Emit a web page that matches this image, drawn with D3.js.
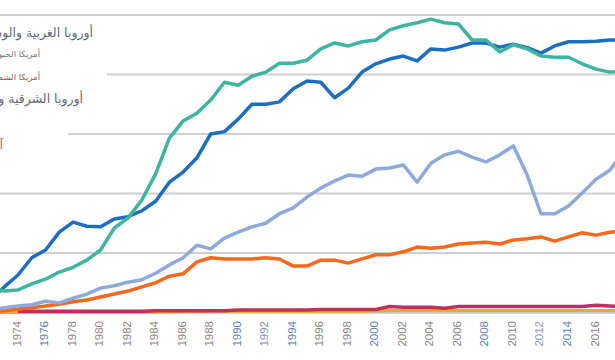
<!DOCTYPE html>
<html><head><meta charset="utf-8">
<script src="https://cdn.jsdelivr.net/npm/d3@7"></script>
<style>html,body{margin:0;padding:0;background:#fff;overflow:hidden}svg{display:block}</style>
</head><body>
<svg id="chart" width="615" height="360"></svg>
<script>
// ---- data ----
const years = d3.range(1972, 2019);
const westCentralEurope = [4.3,3.6,3.8,4.8,5.6,6.8,7.6,8.8,10.5,14.2,15.9,18.9,23.3,29.3,32.2,33.5,35.7,38.7,38.2,39.7,40.4,41.9,41.9,42.4,44.3,45.3,44.8,45.5,45.8,47.5,48.2,48.7,49.3,48.7,48.5,45.8,45.8,43.8,45.0,44.3,43.1,42.9,42.9,41.8,40.9,40.4,40.6];
const southAmerica = [2.1,4.3,6.3,9.2,10.5,13.5,15.2,14.5,14.4,15.7,16.1,17.1,18.7,21.9,23.6,26.0,30.0,30.4,32.5,35.0,35.0,35.4,37.6,38.9,38.7,36.1,37.7,40.4,41.8,42.6,43.1,42.3,44.3,44.1,44.6,45.3,45.3,44.6,45.1,44.5,43.6,44.8,45.5,45.5,45.6,45.8,45.8];
const eastEuropeRussia = [0.4,0.8,1.1,1.3,1.9,1.6,2.4,3.1,4.1,4.5,5.1,5.5,6.6,8.0,9.2,11.3,10.7,12.5,13.5,14.4,15.0,16.6,17.6,19.4,20.9,22.1,23.1,22.9,24.1,24.3,24.8,21.9,25.1,26.5,27.1,26.1,25.3,26.5,28.0,23.1,16.6,16.6,17.9,20.1,22.4,23.9,27.0];
const northAmerica = [0.1,0.3,0.6,0.8,1.1,1.4,1.8,2.1,2.6,3.1,3.6,4.3,5.0,6.1,6.5,8.5,9.2,9.0,9.0,9.0,9.2,9.0,7.8,7.8,8.8,8.8,8.3,9.0,9.7,9.7,10.2,11.0,10.8,11.0,11.5,11.7,11.8,11.5,12.2,12.4,12.7,12.0,12.7,13.4,13.0,13.5,13.7];
const asiaPacific = [null,null,0.2,0.2,0.2,0.2,0.2,0.2,0.2,0.2,0.2,0.2,0.3,0.3,0.3,0.3,0.3,0.3,0.4,0.4,0.4,0.4,0.4,0.4,0.5,0.5,0.5,0.5,0.5,1.0,0.9,0.9,0.9,0.7,1.0,1.0,1.0,1.0,1.0,1.0,1.0,1.0,1.0,1.0,1.2,1.1,1.0];
const africaMiddleEast = [0,0,0,0,0,0,0,0,0,0,0,0,0.1,0.1,0.15,0.15,0.2,0.2,0.2,0.2,0.2,0.2,0.2,0.2,0.2,0.2,0.2,0.2,0.25,0.35,0.35,0.35,0.35,0.35,0.35,0.35,0.35,0.35,0.35,0.35,0.35,0.35,0.35,0.35,0.35,0.35,0.35];
const otherRegion = years.map(() => 0);
const yTicks = [0,10,20,30,40,50];
const tickYears = d3.range(1974, 2017, 2);
const legendLabels = ["أوروبا الغربية والوسطى","أمريكا الجنوبية","أمريكا الشمالية","أوروبا الشرقية وروسيا","آسيا والمحيط الهادئ"];

// ---- styles ----
const seriesDefs = [
  {v: otherRegion, c: "#c9c9c9", w: 2.5},
  {v: africaMiddleEast, c: "#f5a81c", w: 3},
  {v: asiaPacific, c: "#c2305a", w: 3.5},
  {v: northAmerica, c: "#f7681f", w: 3.5},
  {v: eastEuropeRussia, c: "#8eaadc", w: 3.5},
  {v: southAmerica, c: "#1c6ec2", w: 3.5},
  {v: westCentralEurope, c: "#3db5a0", w: 3.5}
];
const tickColors = {1974:"#8b847f",1976:"#5b7fb8",1978:"#8b847f",1980:"#998a82",1982:"#95817a",1984:"#8b847f",1986:"#8b847f",1988:"#8b847f",1990:"#5b7fb8",1992:"#7f90aa",1994:"#5b7fb8",1996:"#8b847f",1998:"#8b847f",2000:"#5b7fb8",2002:"#8b847f",2004:"#8b847f",2006:"#8b847f",2008:"#5b7fb8",2010:"#8b847f",2012:"#8a98b0",2014:"#5b7fb8",2016:"#8b847f"};
const legendStyle = [
  {x:93, y:37, fs:12.5, c:"#5b6b7d", box:[0,24,97,20]},
  {x:40, y:57, fs:8.5, c:"#7d7575", box:[0,46,60,16]},
  {x:40, y:80, fs:8.5, c:"#8b5e55", box:[0,64,107,22]},
  {x:83, y:103, fs:12.5, c:"#5f6a78", box:[0,90,88,20]},
  {x:3,  y:149, fs:12.5, c:"#7a8290", box:[0,128,68,24]}
];

const svg = d3.select("#chart");
const x = d3.scaleLinear().domain([1974, 2016]).range([18, 596]);
const y = d3.scaleLinear().domain([0, 50]).range([312.5, 15]);

// gridlines
svg.append("g").selectAll("line").data(yTicks.slice(1)).join("line")
  .attr("x1", 0).attr("x2", 615)
  .attr("y1", d => y(d)).attr("y2", d => y(d))
  .attr("stroke", "#cfcfcf").attr("stroke-width", 2);

// legend boxes and labels
const lg = svg.append("g");
lg.selectAll("rect").data(legendStyle).join("rect")
  .attr("x", d => d.box[0]).attr("y", d => d.box[1])
  .attr("width", d => d.box[2]).attr("height", d => d.box[3])
  .attr("fill", "#fff");
lg.selectAll("text").data(legendLabels).join("text")
  .attr("x", (d,i) => legendStyle[i].x).attr("y", (d,i) => legendStyle[i].y)
  .attr("text-anchor", "end")
  .attr("font-family", "'DejaVu Sans', 'Noto Sans', sans-serif")
  .attr("font-size", (d,i) => legendStyle[i].fs)
  .attr("fill", (d,i) => legendStyle[i].c)
  .text(d => d);

// lines
const line = d3.line().defined(d => d[1] !== null)
  .x(d => x(d[0])).y(d => y(d[1]));
svg.append("g").selectAll("path").data(seriesDefs).join("path")
  .attr("d", s => line(years.map((yr, i) => [yr, s.v[i]])))
  .attr("fill", "none").attr("stroke", s => s.c).attr("stroke-width", s => s.w)
  .attr("stroke-linejoin", "round").attr("stroke-linecap", "butt");

// x axis labels
const xAxis = d3.axisBottom(x).tickValues(tickYears).tickFormat(d3.format("d")).tickSize(0);
const ax = svg.append("g").attr("transform", "translate(0,321)").call(xAxis);
ax.select(".domain").remove();
ax.selectAll("text")
  .attr("transform", "translate(-2,0) rotate(-90)")
  .attr("text-anchor", "end").attr("x", 0).attr("y", 0).attr("dy", "0.35em")
  .attr("font-family", "'Liberation Sans', Arial, sans-serif").attr("font-size", 11.5)
  .attr("fill", d => tickColors[d]);
</script>
</body></html>
